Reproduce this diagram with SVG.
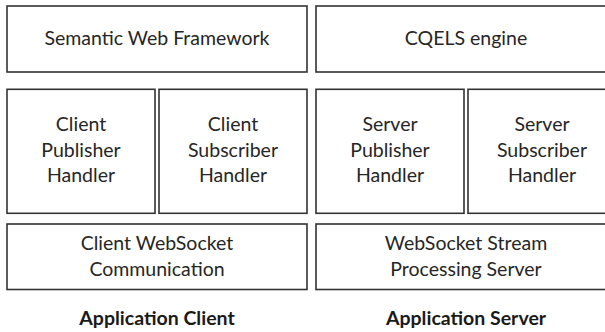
<svg xmlns="http://www.w3.org/2000/svg" width="605" height="332" viewBox="0 0 605 332">
  <style>
    .box { fill: #ffffff; stroke: #333333; stroke-width: 1.6; }
    .lbl { font-family: Lato, "Open Sans", "Liberation Sans", sans-serif; font-size: 19.5px; fill: #262626; text-anchor: middle; }
    .title { font-family: Lato, "Open Sans", "Liberation Sans", sans-serif; font-size: 19.5px; font-weight: bold; fill: #1a1a1a; text-anchor: middle; }
  </style>
  <rect width="605" height="332" fill="#ffffff"/>

  <!-- Client side stack -->
  <g id="semantic-web-framework">
    <rect class="box" x="7" y="6" width="300" height="66"/>
    <text class="lbl" x="157" y="45">Semantic Web Framework</text>
  </g>
  <g id="client-publisher-handler">
    <rect class="box" x="7" y="89.3" width="148" height="124"/>
    <text class="lbl" x="81" y="131">Client</text>
    <text class="lbl" x="81" y="156.5">Publisher</text>
    <text class="lbl" x="81" y="182">Handler</text>
  </g>
  <g id="client-subscriber-handler">
    <rect class="box" x="159" y="89.3" width="148" height="124"/>
    <text class="lbl" x="233" y="131">Client</text>
    <text class="lbl" x="233" y="156.5">Subscriber</text>
    <text class="lbl" x="233" y="182">Handler</text>
  </g>
  <g id="client-websocket-communication">
    <rect class="box" x="7" y="224" width="300" height="65.5"/>
    <text class="lbl" x="157" y="250">Client WebSocket</text>
    <text class="lbl" x="157" y="275.5">Communication</text>
  </g>
  <g id="application-client">
    <text class="title" x="157" y="325">Application Client</text>
  </g>

  <!-- Server side stack (runs past the right edge) -->
  <g id="cqels-engine">
    <rect class="box" x="316" y="6" width="300" height="66"/>
    <text class="lbl" x="466" y="45">CQELS engine</text>
  </g>
  <g id="server-publisher-handler">
    <rect class="box" x="316" y="89.3" width="148" height="124"/>
    <text class="lbl" x="390" y="131">Server</text>
    <text class="lbl" x="390" y="156.5">Publisher</text>
    <text class="lbl" x="390" y="182">Handler</text>
  </g>
  <g id="server-subscriber-handler">
    <rect class="box" x="468" y="89.3" width="148" height="124"/>
    <text class="lbl" x="542" y="131">Server</text>
    <text class="lbl" x="542" y="156.5">Subscriber</text>
    <text class="lbl" x="542" y="182">Handler</text>
  </g>
  <g id="websocket-stream-processing-server">
    <rect class="box" x="316" y="224" width="300" height="65.5"/>
    <text class="lbl" x="466" y="250">WebSocket Stream</text>
    <text class="lbl" x="466" y="275.5">Processing Server</text>
  </g>
  <g id="application-server">
    <text class="title" x="466" y="325">Application Server</text>
  </g>

  <!-- no connectors: the layers are stacked side by side -->
  <g id="connectors"/>
</svg>
